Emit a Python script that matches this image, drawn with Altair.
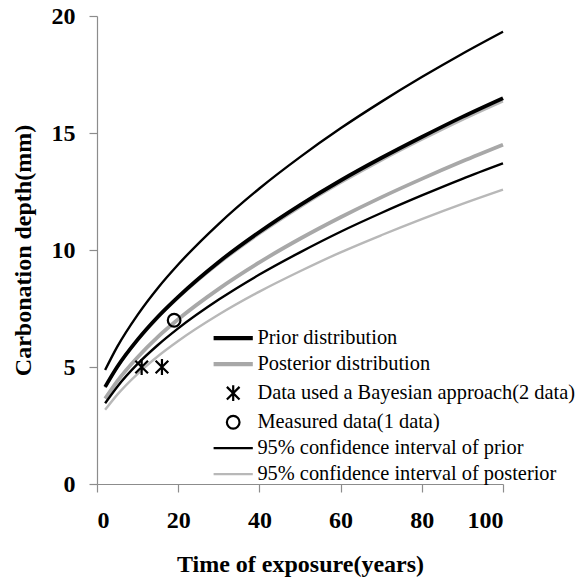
import altair as alt
import pandas as pd

# ---- values ----
years = [2, 5, 10, 15, 20, 30, 40, 50, 60, 70, 80, 90, 100]
prior_mean = [4.15, 5.01, 6.17, 7.15, 8.00, 9.49, 10.77, 11.92, 12.97, 13.93, 14.83, 15.69, 16.49]
prior_upper = [4.87, 5.87, 7.23, 8.38, 9.38, 11.12, 12.63, 13.97, 15.20, 16.33, 17.39, 18.39, 19.33]
prior_lower = [3.45, 4.16, 5.13, 5.94, 6.65, 7.88, 8.95, 9.90, 10.78, 11.58, 12.33, 13.04, 13.70]
posterior_mean = [3.65, 4.40, 5.42, 6.29, 7.04, 8.34, 9.47, 10.48, 11.40, 12.25, 13.04, 13.79, 14.50]
posterior_upper = [4.12, 4.97, 6.12, 7.09, 7.94, 9.41, 10.68, 11.82, 12.86, 13.82, 14.71, 15.56, 16.35]
posterior_lower = [3.17, 3.82, 4.71, 5.46, 6.11, 7.24, 8.22, 9.09, 9.90, 10.63, 11.32, 11.97, 12.58]

bayes_years = [11, 16]
bayes_depth = [5.0, 5.0]
measured_years = [19]
measured_depth = [7.0]

x_ticks = [0, 20, 40, 60, 80, 100]
y_ticks = [0, 5, 10, 15, 20]

entries = [
    "Prior distribution",
    "Posterior distribution",
    "Data used a Bayesian approach(2 data)",
    "Measured data(1 data)",
    "95% confidence interval of prior",
    "95% confidence interval of posterior",
]
entry_colors = ["#000000", "#a8a8a8", "#000000", "#000000", "#000000", "#b8b8b8"]
# legend glyphs (unit coordinates, scaled by the symbol size)
THIN = "M-3.1,0L3.1,0"
THICK = "M-3.1,-0.16L3.1,-0.16M-3.1,0.16L3.1,0.16"
STAR = "M-1,-1L1,1M-1,1L1,-1M0,-1.25L0,1.25"
entry_shapes = [THICK, THICK, STAR, "circle", THIN, THIN]

FONT = "Liberation Serif"

# ---- tables ----
curves = [
    ("posterior_lower", entries[5], posterior_lower, "post"),
    ("posterior_upper", entries[5], posterior_upper, "post"),
    ("posterior_mean", entries[1], posterior_mean, "post"),
    ("prior_lower", entries[4], prior_lower, "prior"),
    ("prior_upper", entries[4], prior_upper, "prior"),
    ("prior_mean", entries[0], prior_mean, "prior"),
]
rows = []
for cname, ser, vals, grp in curves:
    for t, v in zip(years, vals):
        rows.append({"t": t, "depth": v, "series": ser, "curve": cname, "grp": grp})
lines_df = pd.DataFrame(rows)

pts = []
for t, v in zip(bayes_years, bayes_depth):
    pts.append({"t": t, "depth": v, "series": entries[2]})
for t, v in zip(measured_years, measured_depth):
    pts.append({"t": t, "depth": v, "series": entries[3]})
pts_df = pd.DataFrame(pts)

line_idx = [0, 1, 4, 5]
line_domain = [entries[i] for i in line_idx]
line_colors = [entry_colors[i] for i in line_idx]

xenc = alt.X(
    "t:Q",
    scale=alt.Scale(domain=[0, 100], nice=False),
    axis=alt.Axis(values=x_ticks, title="Time of exposure(years)", format="d"),
)
yenc = alt.Y(
    "depth:Q",
    scale=alt.Scale(domain=[0, 20], nice=False),
    axis=alt.Axis(values=y_ticks, title="Carbonation depth(mm)", format="d"),
)
width_enc = alt.condition(
    alt.FieldOneOfPredicate(field="series", oneOf=[entries[0], entries[1]]),
    alt.value(3.8),
    alt.value(2.4),
)

legend_def = alt.Legend(
    orient="none",
    legendX=126,
    legendY=312,
    labelFont=FONT,
    labelFontSize=20.4,
    labelColor="#000000",
    labelLimit=500,
    labelOffset=14,
    symbolSize=160,
    symbolStrokeWidth=2.2,
    symbolOpacity=1,
    rowPadding=5,
    padding=0,
)


def line_layer(group):
    return (
        alt.Chart(lines_df)
        .transform_filter(alt.datum.grp == group)
        .mark_line(interpolate="monotone")
        .encode(
            x=xenc,
            y=yenc,
            detail="curve:N",
            stroke=alt.Stroke("series:N", scale=alt.Scale(domain=line_domain, range=line_colors), legend=None),
            strokeWidth=width_enc,
        )
    )


points = (
    alt.Chart(pts_df)
    .mark_point(filled=False, size=160, strokeWidth=2.2, opacity=1)
    .encode(
        x=xenc,
        y=yenc,
        color=alt.Color("series:N", title="", scale=alt.Scale(domain=entries, range=entry_colors), legend=legend_def),
        shape=alt.Shape("series:N", title="", scale=alt.Scale(domain=entries, range=entry_shapes), legend=legend_def),
    )
)

chart = (
    alt.layer(line_layer("post"), line_layer("prior"), points)
    .properties(
        width=406,
        height=468,
        autosize=alt.AutoSizeParams(type="none"),
        padding={"left": 97, "top": 16, "right": 82, "bottom": 96},
        background="white",
    )
    .configure_view(stroke=None)
    .configure_axis(
        grid=False,
        domainColor="#8c8c8c",
        tickColor="#8c8c8c",
        domainWidth=1.2,
        tickWidth=1.2,
        tickSize=8,
        labelFont=FONT,
        labelFontSize=24,
        labelFontWeight="bold",
        labelColor="#000000",
        titleFont=FONT,
        titleFontSize=24,
        titleFontWeight="bold",
        titleColor="#000000",
    )
    .configure_axisX(labelPadding=16, titlePadding=20)
    .configure_axisY(labelPadding=14, titlePadding=16)
)

chart.save("out.html", embed_options={"renderer": "svg", "actions": False})
